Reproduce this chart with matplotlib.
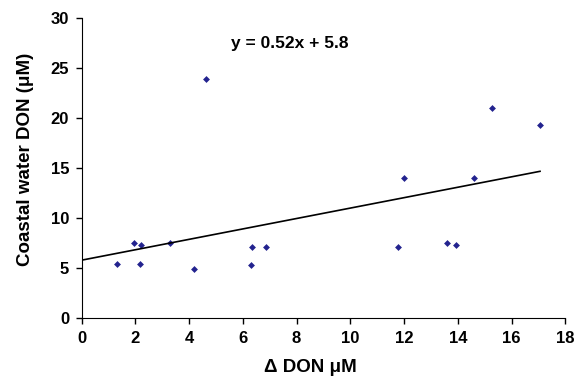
import matplotlib.pyplot as plt
import numpy as np

plt.rcParams['font.family'] = ['Liberation Sans', 'DejaVu Sans']
plt.rcParams['font.weight'] = 'bold'

# data
delta_don = [1.30, 1.95, 2.22, 2.16, 3.29, 4.20, 4.63, 6.31, 6.35, 6.88,
             11.77, 12.01, 13.60, 13.94, 14.61, 15.28, 17.06]
coastal_don = [5.45, 7.55, 7.35, 5.45, 7.48, 4.89, 23.85, 5.35, 7.08, 7.08,
               7.08, 14.0, 7.48, 7.28, 14.0, 20.96, 19.26]
slope = 0.52
intercept = 5.8
x_ticks = np.arange(0, 19, 2)
y_ticks = np.arange(0, 31, 5)

fig = plt.figure(figsize=(5.83, 3.78), dpi=100)
ax = fig.add_axes([0.140, 0.158, 0.8296, 0.795])

ax.plot(delta_don, coastal_don, linestyle='none', marker='D', markersize=3.5,
        color='#23238f', markeredgewidth=0)
xl = np.array([0, max(delta_don)])
ax.plot(xl, slope * xl + intercept, color='black', lw=1.2)

ax.text(5.55, 27.4, 'y = %.2fx + %.1f' % (slope, intercept), fontsize=12.5,
        fontweight='bold', va='center')

ax.set_xlim(0, 18)
ax.set_ylim(0, 30)
ax.set_xticks(x_ticks, [str(t) for t in x_ticks], fontsize=12, fontweight='bold')
ax.set_yticks(y_ticks, [str(t) for t in y_ticks], fontsize=12, fontweight='bold')
ax.tick_params(direction='out', length=4, width=1, pad=5)
ax.spines['top'].set_visible(False)
ax.spines['right'].set_visible(False)
ax.set_xlabel('\u0394 DON \u03bcM', fontsize=13.5, fontweight='bold')
ax.set_ylabel('Coastal water DON (\u03bcM)', fontsize=13.5, fontweight='bold')
ax.xaxis.set_label_coords(0.472, -0.135)
ax.yaxis.set_label_coords(-0.098, 0.53)

plt.savefig('out.png', dpi=100)
